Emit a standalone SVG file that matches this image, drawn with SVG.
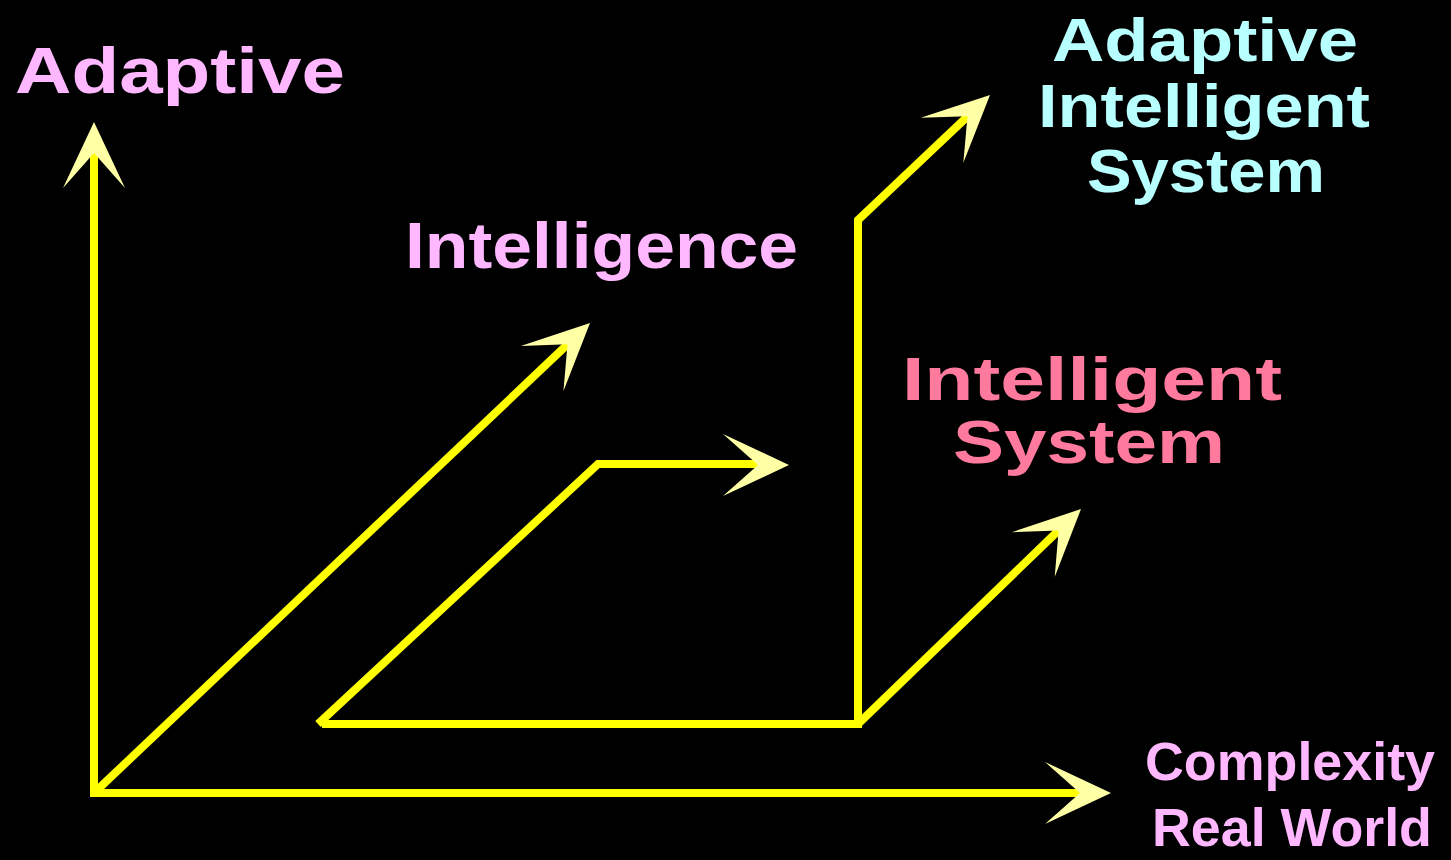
<svg xmlns="http://www.w3.org/2000/svg" xmlns:xlink="http://www.w3.org/1999/xlink" width="1451" height="860" viewBox="0 0 1451 860">
<style>
.ln{fill:none;stroke:#ffff00;stroke-width:8;stroke-linejoin:miter;stroke-linecap:butt}
.ah{fill:#ffffa6}
.t{font-family:"Liberation Sans",Arial,sans-serif;font-weight:bold;font-size:64px}
.st{font-size:62px}
.sm{font-size:54px}
.pk{fill:#ffb8ff}
.cy{fill:#b8ffff}
.rd{fill:#ff7a9c}
</style>
<defs>
<path id="head" d="M0,0 L-66,-31 L-31,0 L-66,31 Z"/>
</defs>
<rect width="1451" height="860" fill="#000"/>
<g id="connectors">
<polyline class="ln" points="94,152 94,793 1080,793"/>
<line class="ln" x1="94" y1="793" x2="569" y2="343"/>
<polyline class="ln" points="318,724 598,464 758,464"/>
<polyline class="ln" points="322,724 858,724 858,220 968,116"/>
<line class="ln" x1="858" y1="724" x2="1059" y2="530"/>
<use href="#head" class="ah" transform="translate(94,122) rotate(-90)"/>
<use href="#head" class="ah" transform="translate(1111,793)"/>
<use href="#head" class="ah" transform="translate(590,323) rotate(-43.5)"/>
<use href="#head" class="ah" transform="translate(789,465)"/>
<use href="#head" class="ah" transform="translate(990,95) rotate(-43.4)"/>
<use href="#head" class="ah" transform="translate(1081,509) rotate(-43.7)"/>
</g>
<g id="label-adaptive">
<text class="t pk" x="15" y="93" textLength="330" lengthAdjust="spacingAndGlyphs">Adaptive</text>
</g>
<g id="label-intelligence">
<text class="t pk" x="405" y="268" textLength="393" lengthAdjust="spacingAndGlyphs">Intelligence</text>
</g>
<g id="label-adaptive-intelligent-system">
<text class="t st cy" x="1052" y="61" textLength="306" lengthAdjust="spacingAndGlyphs">Adaptive</text>
<text class="t st cy" x="1038" y="127" textLength="332" lengthAdjust="spacingAndGlyphs">Intelligent</text>
<text class="t st cy" x="1087" y="192" textLength="238" lengthAdjust="spacingAndGlyphs">System</text>
</g>
<g id="label-intelligent-system">
<text class="t st rd" x="902" y="400" textLength="380" lengthAdjust="spacingAndGlyphs">Intelligent</text>
<text class="t st rd" x="953" y="463" textLength="272" lengthAdjust="spacingAndGlyphs">System</text>
</g>
<g id="label-complexity">
<text class="t sm pk" x="1145" y="780" textLength="290" lengthAdjust="spacingAndGlyphs">Complexity</text>
<text class="t sm pk" x="1152" y="846" textLength="280" lengthAdjust="spacingAndGlyphs">Real World</text>
</g>
</svg>
